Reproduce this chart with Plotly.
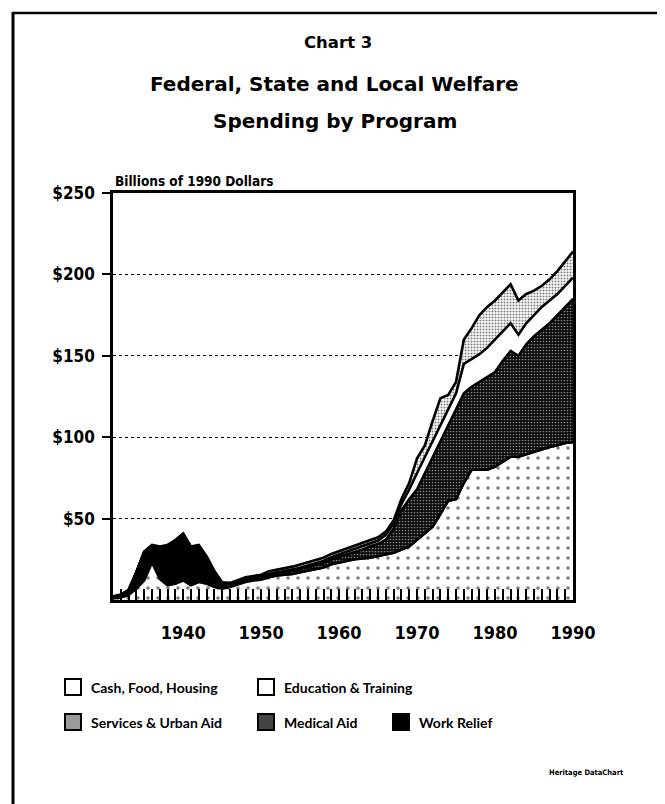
import plotly.graph_objects as go

years = list(range(1931, 1991))

cash = [1, 1.5, 3, 7, 12, 23, 13, 9, 10, 12,
        9, 11, 10, 8, 7, 8, 9.5, 11, 12, 12.5,
        14, 15, 15.5, 16, 17, 18, 19, 20, 22, 23,
        24, 25, 25.5, 26, 27, 28, 29, 31, 33, 37,
        41, 45, 53, 61, 62, 72, 80, 80, 80, 82,
        85, 88, 88, 89.5, 91, 92.5, 94, 95, 96.5, 97]

work_relief = [0.5, 1, 2.5, 9.5, 17, 10, 19, 24, 26, 28,
               23, 22, 16, 9, 3, 1, 1, 1, 0.5, 0.5,
               0, 0, 0, 0, 0, 0, 0, 0, 0, 0,
               0, 0, 0, 0, 0, 0, 0, 0, 0, 0,
               0, 0, 0, 0, 0, 0, 0, 0, 0, 0,
               0, 0, 0, 0, 0, 0, 0, 0, 0, 0]

medical = [0.2, 0.2, 0.2, 0.2, 0.2, 0.2, 0.2, 0.2, 0.2, 0.2,
           0.2, 0.2, 0.2, 0.2, 0.2, 0.5, 0.7, 0.8, 1, 1,
           1.2, 1.3, 1.5, 1.8, 2, 2.2, 2.5, 2.8, 3, 3.5,
           4, 4.5, 5.5, 7, 7.5, 9, 15, 24, 29, 31,
           37, 43, 45, 47, 56, 55, 51, 54, 57, 58,
           62, 65, 62, 67.5, 71, 73.5, 76, 80, 83.5, 88]

education = [0.3, 0.3, 0.3, 0.3, 0.3, 0.3, 0.3, 0.3, 0.3, 0.3,
             0.3, 0.3, 0.3, 0.3, 0.3, 0.5, 0.5, 0.5, 0.5, 0.5,
             0.7, 0.8, 0.8, 0.9, 0.8, 1, 1.1, 1.2, 1.3, 1.5,
             1.5, 1.7, 2, 2, 2, 3, 3, 4, 6, 10,
             10, 9, 9, 9, 9, 18, 17, 17, 18, 20,
             18, 17, 13, 13, 13, 14, 14, 13, 13, 13]

services = [0.3, 0.3, 0.3, 0.3, 0.3, 0.3, 0.3, 0.3, 0.3, 0.3,
            0.3, 0.3, 0.3, 0.3, 0.3, 0.5, 0.5, 0.7, 0.8, 1,
            1.8, 1.5, 1.7, 1.8, 2, 2, 2, 2, 2, 2,
            2.2, 2.3, 2, 1.5, 2, 2, 2, 3, 4, 9,
            7, 13, 17, 9, 7, 15, 19, 24, 25, 24,
            24, 24, 21, 18, 15, 13, 13, 14, 15, 16]

y_ticks = [50, 100, 150, 200, 250]
y_tick_labels = ["$50", "$100", "$150", "$200", "$250"]
x_ticks = [1940, 1950, 1960, 1970, 1980, 1990]
x_tick_labels = ["1940", "1950", "1960", "1970", "1980", "1990"]

legend_names = ["Cash, Food, Housing", "Education & Training",
                "Services & Urban Aid", "Medical Aid", "Work Relief"]

fig = go.Figure()

line = dict(color="black", width=2.6)

fig.add_trace(go.Scatter(
    x=years, y=cash, stackgroup="s", mode="lines", line=line,
    fillcolor="white",
    fillpattern=dict(shape=".", bgcolor="white", fgcolor="black",
                     size=10, solidity=0.1),
    name=legend_names[0], hoverinfo="skip"))
fig.add_trace(go.Scatter(
    x=years, y=work_relief, stackgroup="s", mode="lines", line=line,
    fillcolor="black", name=legend_names[4], hoverinfo="skip"))
fig.add_trace(go.Scatter(
    x=years, y=medical, stackgroup="s", mode="lines", line=line,
    fillcolor="#222222",
    fillpattern=dict(shape=".", bgcolor="#0a0a0a", fgcolor="white",
                     size=3, solidity=0.25),
    name=legend_names[3], hoverinfo="skip"))
fig.add_trace(go.Scatter(
    x=years, y=education, stackgroup="s", mode="lines", line=line,
    fillcolor="white", name=legend_names[1], hoverinfo="skip"))
fig.add_trace(go.Scatter(
    x=years, y=services, stackgroup="s", mode="lines", line=line,
    fillcolor="#bbbbbb",
    fillpattern=dict(shape=".", bgcolor="white", fgcolor="black",
                     size=3, solidity=0.4),
    name=legend_names[2], hoverinfo="skip"))

# page body has an 8px default margin; work in screen pixels and shift
OFF = 8
W, H = 665 - OFF, 804 - OFF
L, R, T, B = 113 - OFF, 573 - OFF, 193 - OFF, 600 - OFF


def px(x):
    return (x - OFF - L) / (R - L)


def py(y):
    return (B - (y - OFF)) / (B - T)


tick_font = dict(family="DejaVu Sans Condensed, DejaVu Sans", size=17,
                 color="black", weight="bold")

fig.update_layout(
    width=W, height=H,
    margin=dict(l=L, r=W - R, t=T, b=H - B, pad=0),
    paper_bgcolor="white", plot_bgcolor="white",
    showlegend=False,
    xaxis=dict(range=[1931, 1990], tickmode="array", tickvals=x_ticks,
               ticktext=x_tick_labels, ticks="inside", ticklen=11,
               tickwidth=2, tickcolor="black", showgrid=False,
               zeroline=False, showline=True, linecolor="black",
               linewidth=3, mirror=True,
               tickfont=dict(tick_font, size=18),
               ticklabelstandoff=14,
               minor=dict(ticks="inside", dtick=1, tick0=1931,
                          ticklen=11, tickwidth=2, tickcolor="black",
                          showgrid=False),
               fixedrange=True),
    yaxis=dict(range=[0, 250], tickmode="array", tickvals=y_ticks,
               ticktext=y_tick_labels, ticks="outside", ticklen=8,
               tickwidth=2, tickcolor="black", showgrid=True,
               gridcolor="black", griddash="dot", gridwidth=1.3,
               zeroline=False, showline=True, linecolor="black",
               linewidth=2.5, mirror=True, tickfont=tick_font,
               ticklabelstandoff=4, fixedrange=True),
)

title_font = dict(family="DejaVu Sans", color="black", weight="bold")
annotations = [
    dict(text="Chart 3", x=px(338), y=py(42), size=16.5),
    dict(text="Federal, State and Local Welfare", x=px(334), y=py(84), size=20),
    dict(text="Spending by Program", x=px(335), y=py(121), size=20),
]
for a in annotations:
    fig.add_annotation(text=a["text"], x=a["x"], y=a["y"], xref="paper",
                       yref="paper", showarrow=False, xanchor="center",
                       yanchor="middle",
                       font=dict(title_font, size=a["size"]))

fig.add_annotation(text="Billions of 1990 Dollars", x=0, y=py(181),
                   xref="paper", yref="paper", showarrow=False,
                   xanchor="left", yanchor="middle",
                   font=dict(family="DejaVu Sans Condensed, DejaVu Sans",
                             size=13.5, color="black", weight="bold"))

fig.add_annotation(text="Heritage DataChart", x=px(626), y=py(772),
                   xref="paper", yref="paper", showarrow=False,
                   xanchor="right", yanchor="middle",
                   font=dict(family="DejaVu Sans Condensed, DejaVu Sans",
                             size=7.5, color="black", weight="bold"))

# manual legend
legend_items = [
    (legend_names[0], 65, 687, "white"),
    (legend_names[1], 258, 687, "white"),
    (legend_names[2], 65, 722, "#9a9a9a"),
    (legend_names[3], 258, 722, "#444444"),
    (legend_names[4], 393, 722, "black"),
]
for name, x0, yc, col in legend_items:
    fig.add_shape(type="rect", xref="paper", yref="paper",
                  x0=px(x0), x1=px(x0 + 16), y0=py(yc + 8), y1=py(yc - 8),
                  line=dict(color="black", width=2), fillcolor=col)
    fig.add_annotation(text=name, x=px(x0 + 24), y=py(yc), xref="paper",
                       yref="paper", showarrow=False, xanchor="left",
                       yanchor="middle",
                       font=dict(family="Lato, DejaVu Sans", size=14,
                                 color="black", weight="bold"))

# outer frame (left and top edges; right/bottom run off the page)
fig.add_shape(type="line", xref="paper", yref="paper",
              x0=px(13), x1=px(13), y0=py(12), y1=py(810),
              line=dict(color="black", width=3))
fig.add_shape(type="line", xref="paper", yref="paper",
              x0=px(12), x1=px(670), y0=py(13), y1=py(13),
              line=dict(color="black", width=2.5))

fig.write_html("out.html")
